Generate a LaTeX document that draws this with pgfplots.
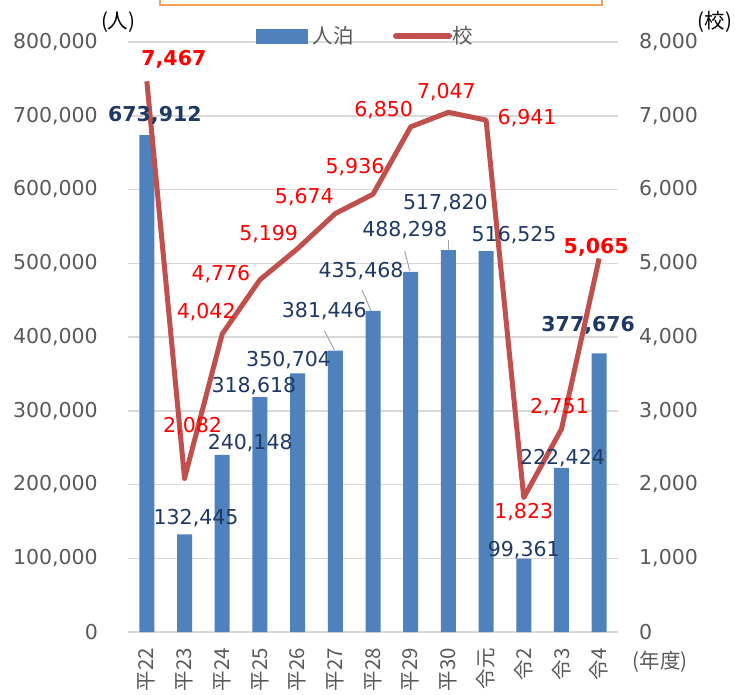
\documentclass[border=0pt]{standalone}
\usepackage{fontspec}
\setmainfont{DejaVu Sans}
\newfontfamily\jp{Noto Sans CJK JP}
\usepackage{pgfplots}
\pgfplotsset{compat=1.18}
\definecolor{BarBlue}{HTML}{4F81BD}
\definecolor{LineRed}{HTML}{C0504D}
\definecolor{GridGray}{HTML}{D9D9D9}
\definecolor{TickGray}{HTML}{595959}
\definecolor{Navy}{HTML}{1F3864}
\definecolor{BoxOrange}{HTML}{F4A25B}
\definecolor{LeadGray}{HTML}{A6A6A6}
\newcommand{\lbl}{\fontsize{20.5}{24}\selectfont}

\begin{document}
\begin{tikzpicture}[x=1pt,y=1pt]
\useasboundingbox (0,0) rectangle (735,-694);
% title box, cut off by the top edge
\draw[BoxOrange, line width=1.5pt] (160,40) rectangle (602,-5);

\pgfplotsset{
  common/.style={
    at={(128pt,-632pt)}, anchor=south west,
    scale only axis, width=490pt, height=590pt,
    xmin=-0.5, xmax=12.5,
    major tick length=0pt,
    tick label style={font=\lbl, text=TickGray},
    /pgf/number format/.cd, fixed, 1000 sep={,}, assume math mode=true,
  }
}

\begin{axis}[common,
  ymin=0, ymax=800000,
  ytick={0,100000,...,800000},
  scaled y ticks=false,
  axis x line*=bottom, axis y line*=left,
  x axis line style={GridGray, line width=1.5pt},
  y axis line style={draw=none},
  ymajorgrids, grid style={GridGray, line width=1.5pt},
  yticklabel style={anchor=east, inner sep=0pt, xshift=-30pt},
  xtick={0,...,12},
  xticklabels={平22,平23,平24,平25,平26,平27,平28,平29,平30,令元,令2,令3,令4},
  xticklabel style={rotate=90, anchor=east, inner sep=0pt, font=\jp\lbl, xshift=-16pt},
  xlabel={(年度)}, xlabel style={font=\jp\lbl, text=TickGray, at={(axis description cs:1.086,-0.051)}, anchor=center},
  ylabel={(人)}, ylabel style={font=\jp\lbl, rotate=-90, at={(axis description cs:-0.020,1.034)}, anchor=center},
]
\addplot[ybar, bar width=15pt, fill=BarBlue, draw=none] coordinates {
  (0,673912) (1,132445) (2,240148) (3,318618) (4,350704) (5,381446) (6,435468)
  (7,488298) (8,517820) (9,516525) (10,99361) (11,222424) (12,377676)};
\coordinate (b0) at (axis cs:0,673912);
\coordinate (b1) at (axis cs:1,132445);
\coordinate (b2) at (axis cs:2,240148);
\coordinate (b3) at (axis cs:3,318618);
\coordinate (b4) at (axis cs:4,350704);
\coordinate (b5) at (axis cs:5,381446);
\coordinate (b6) at (axis cs:6,435468);
\coordinate (b7) at (axis cs:7,488298);
\coordinate (b8) at (axis cs:8,517820);
\coordinate (b9) at (axis cs:9,516525);
\coordinate (b10) at (axis cs:10,99361);
\coordinate (b11) at (axis cs:11,222424);
\coordinate (b12) at (axis cs:12,377676);
\end{axis}

\begin{axis}[common,
  ymin=0, ymax=8000,
  ytick={0,1000,...,8000},
  axis x line=none, axis y line*=right,
  y axis line style={draw=none},
  yticklabel style={anchor=west, inner sep=0pt, xshift=21pt},
  ylabel={(校)}, ylabel style={font=\jp\lbl, rotate=-90, at={(axis description cs:1.198,1.034)}, anchor=center},
  legend style={at={(axis description cs:0.4837,1.0102)}, anchor=center,
    draw=none, fill=none, inner sep=0pt, font=\jp\lbl, text=TickGray,
    legend columns=2, /tikz/every even column/.append style={column sep=38pt},
    nodes={inner sep=1pt}},
]
\addlegendimage{legend image code/.code={\fill[BarBlue] (0pt,-7pt) rectangle (51pt,7pt); \path (56pt,0pt);}}
\addlegendentry{人泊}
\addplot[LineRed, line width=5pt, line join=round,
  legend image code/.code={\draw[LineRed, line width=6pt, line cap=round] (3pt,0pt) -- (56pt,0pt);}]
  coordinates {
  (0,7467) (1,2082) (2,4042) (3,4776) (4,5199) (5,5674) (6,5936)
  (7,6850) (8,7047) (9,6941) (10,1823) (11,2751) (12,5065)};
\addlegendentry{校}
\coordinate (l0) at (axis cs:0,7467);
\coordinate (l1) at (axis cs:1,2082);
\coordinate (l2) at (axis cs:2,4042);
\coordinate (l3) at (axis cs:3,4776);
\coordinate (l4) at (axis cs:4,5199);
\coordinate (l5) at (axis cs:5,5674);
\coordinate (l6) at (axis cs:6,5936);
\coordinate (l7) at (axis cs:7,6850);
\coordinate (l8) at (axis cs:8,7047);
\coordinate (l9) at (axis cs:9,6941);
\coordinate (l10) at (axis cs:10,1823);
\coordinate (l11) at (axis cs:11,2751);
\coordinate (l12) at (axis cs:12,5065);
\end{axis}

% leader lines
\draw[LeadGray, line width=1pt] ([shift={(-11,20)}]b5) -- ([shift={(-1,1)}]b5);
\draw[LeadGray, line width=1pt] ([shift={(-11,21)}]b6) -- ([shift={(-2,0)}]b6);
\draw[LeadGray, line width=1pt] ([shift={(-6,21)}]b7) -- ([shift={(-1,1)}]b7);
\draw[LeadGray, line width=1pt] ([shift={(0,10)}]b8) -- (b8);

% bar labels
\tikzset{bl/.style={text=Navy, font=\lbl, inner sep=0pt, anchor=center}}
\node[bl, font=\lbl\bfseries] at ([shift={(8,20)}]b0) {673,912};
\node[bl] at ([shift={(11.5,16)}]b1) {132,445};
\node[bl] at ([shift={(28,12)}]b2) {240,148};
\node[bl] at ([shift={(-6,11)}]b3) {318,618};
\node[bl] at ([shift={(-9,13)}]b4) {350,704};
\node[bl] at ([shift={(-11,40)}]b5) {381,446};
\node[bl] at ([shift={(-12,40)}]b6) {435,468};
\node[bl] at ([shift={(-6,42)}]b7) {488,298};
\node[bl] at ([shift={(-3,47)}]b8) {517,820};
\node[bl] at ([shift={(28,16)}]b9) {516,525};
\node[bl] at ([shift={(0,9)}]b10) {99,361};
\node[bl] at ([shift={(1,10)}]b11) {222,424};
\node[bl, font=\lbl\bfseries] at ([shift={(-11,28)}]b12) {377,676};

% line labels
\tikzset{ll/.style={text=red, font=\lbl, inner sep=0pt, anchor=center}}
\node[ll, font=\lbl\bfseries] at ([shift={(27,22)}]l0) {7,467};
\node[ll] at ([shift={(8,52)}]l1) {2,082};
\node[ll] at ([shift={(-16,22)}]l2) {4,042};
\node[ll] at ([shift={(-39,6)}]l3) {4,776};
\node[ll] at ([shift={(-29,15)}]l4) {5,199};
\node[ll] at ([shift={(-31,16)}]l5) {5,674};
\node[ll] at ([shift={(-18,27)}]l6) {5,936};
\node[ll] at ([shift={(-27,17)}]l7) {6,850};
\node[ll] at ([shift={(-2,20)}]l8) {7,047};
\node[ll] at ([shift={(41,2)}]l9) {6,941};
\node[ll] at ([shift={(0,-15)}]l10) {1,823};
\node[ll] at ([shift={(-2,22)}]l11) {2,751};
\node[ll, font=\lbl\bfseries] at ([shift={(-3,11)}]l12) {5,065};
\end{tikzpicture}
\end{document}
